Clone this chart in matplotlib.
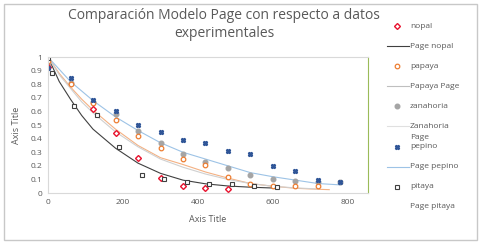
import matplotlib.pyplot as plt
from matplotlib.lines import Line2D
from matplotlib.patches import Rectangle

plt.rcParams['font.family'] = ['Open Sans', 'DejaVu Sans']

# experimental data (moisture ratio vs time)
t_nopal = [0, 120, 180, 240, 300, 360, 420, 480]
mr_nopal = [0.93, 0.62, 0.44, 0.26, 0.11, 0.05, 0.04, 0.03]

t_papaya = [0, 60, 120, 180, 240, 300, 360, 420, 480, 540, 600, 660, 720]
mr_papaya = [0.97, 0.80, 0.66, 0.54, 0.42, 0.33, 0.25, 0.21, 0.12, 0.07, 0.055, 0.055, 0.055]

t_zanahoria = [0, 60, 120, 180, 240, 300, 360, 420, 480, 540, 600, 660, 720, 780]
mr_zanahoria = [0.96, 0.81, 0.67, 0.58, 0.46, 0.37, 0.29, 0.23, 0.185, 0.13, 0.10, 0.09, 0.085, 0.08]

t_pepino = [0, 60, 120, 180, 240, 300, 360, 420, 480, 540, 600, 660, 720, 780]
mr_pepino = [0.92, 0.845, 0.686, 0.60, 0.50, 0.45, 0.39, 0.37, 0.31, 0.29, 0.20, 0.16, 0.095, 0.078]

t_pitaya = [0, 10, 70, 130, 190, 250, 310, 370, 430, 490, 550, 610]
mr_pitaya = [0.99, 0.885, 0.64, 0.575, 0.34, 0.13, 0.105, 0.085, 0.066, 0.063, 0.05, 0.046]

# Page model curves
tc_nopal = [0, 30, 60, 90, 120, 180, 240, 300, 360, 420, 480, 540, 600]
pg_nopal = [1.0, 0.82, 0.69, 0.57, 0.47, 0.33, 0.22, 0.145, 0.095, 0.068, 0.052, 0.043, 0.037]

tc_papaya = [0, 30, 60, 90, 120, 180, 240, 300, 360, 420, 480, 540, 600, 660, 720, 750]
pg_papaya = [1.0, 0.88, 0.78, 0.69, 0.61, 0.47, 0.35, 0.26, 0.21, 0.155, 0.11, 0.07, 0.05, 0.035, 0.028, 0.025]

tc_zanahoria = [0, 30, 60, 90, 120, 180, 240, 300, 360, 420, 480, 540, 600, 660, 720]
pg_zanahoria = [1.0, 0.87, 0.77, 0.67, 0.59, 0.45, 0.34, 0.25, 0.19, 0.14, 0.10, 0.07, 0.05, 0.038, 0.03]

tc_pepino = [0, 30, 60, 90, 120, 180, 240, 300, 360, 420, 480, 540, 600, 660, 720, 780]
pg_pepino = [1.0, 0.91, 0.82, 0.75, 0.68, 0.56, 0.46, 0.37, 0.30, 0.25, 0.20, 0.15, 0.12, 0.095, 0.07, 0.06]

W, H = 481, 245
fig = plt.figure(figsize=(W / 100, H / 100), dpi=100)
fig.patches.append(Rectangle((0.008, 0.02), 0.984, 0.965, transform=fig.transFigure,
                             fill=False, edgecolor='#c8c8c8', linewidth=1))
ax = fig.add_axes([0.0998, 0.212, 0.665, 0.555])

ax.plot(tc_nopal, pg_nopal, color='#404040', lw=0.8)
ax.plot(tc_papaya, pg_papaya, color='#F4B183', lw=0.8)
ax.plot(tc_zanahoria, pg_zanahoria, color='#D0D0D0', lw=0.8)
ax.plot(tc_pepino, pg_pepino, color='#9DC3E6', lw=0.8)

ms = 3.3
ax.plot(t_zanahoria, mr_zanahoria, 'o', color='#A5A5A5', ms=ms)
ax.plot(t_papaya, mr_papaya, 'o', mfc='white', mec='#ED7D31', mew=0.9, ms=ms)
ax.plot(t_nopal, mr_nopal, 'D', mfc='white', mec='#E8112D', mew=1.0, ms=3)
ax.plot(t_pepino, mr_pepino, 'X', color='#2F5597', ms=3)
ax.plot(t_pitaya, mr_pitaya, 's', mfc='white', mec='#404040', mew=0.8, ms=ms)

ax.set_xlim(0, 853)
ax.set_ylim(0, 1)
ax.set_xticks([0, 200, 400, 600, 800])
ax.set_yticks([0, 0.1, 0.2, 0.3, 0.4, 0.5, 0.6, 0.7, 0.8, 0.9, 1])
ax.set_yticklabels(['0', '0.1', '0.2', '0.3', '0.4', '0.5', '0.6', '0.7', '0.8', '0.9', '1'])
ax.tick_params(labelsize=6, colors='#595959', length=0, pad=4)
for s in ['left', 'bottom', 'top']:
    ax.spines[s].set_color('#d9d9d9')
    ax.spines[s].set_linewidth(0.8)
ax.spines['right'].set_color('#9BBB59')
ax.spines['right'].set_linewidth(0.8)

ax.set_xlabel('Axis Title', fontsize=6.5, color='#595959', labelpad=7)
ax.set_ylabel('Axis Title', fontsize=6.5, color='#595959', labelpad=7)

fig.text(0.466, 0.900, 'Comparación Modelo Page con respecto a datos\nexperimentales',
         ha='center', va='center', fontsize=10, color='#595959', linespacing=1.3)

# legend, laid out by hand (Excel style, wrapped label)
leg_labels = ['nopal', 'Page nopal', 'papaya', 'Papaya Page', 'zanahoria',
              'Zanahoria\nPage', 'pepino', 'Page pepino', 'pitaya', 'Page pitaya']
leg_styles = [
    dict(ls='none', marker='D', mfc='white', mec='#E8112D', mew=1.0, ms=3),
    dict(color='#404040', lw=0.8),
    dict(ls='none', marker='o', mfc='white', mec='#ED7D31', mew=0.9, ms=ms),
    dict(color='#BFBFBF', lw=0.8),
    dict(ls='none', marker='o', color='#A5A5A5', ms=ms),
    dict(color='#E0E0E0', lw=0.8),
    dict(ls='none', marker='X', color='#2F5597', ms=3),
    dict(color='#9DC3E6', lw=0.8),
    dict(ls='none', marker='s', mfc='white', mec='#404040', mew=0.8, ms=ms),
    dict(color='none', lw=0.8),
]
for i, (lab, st) in enumerate(zip(leg_labels, leg_styles)):
    yp = 26 + 20.1 * i
    yf = 1 - yp / H
    if st.get('ls') == 'none':
        fig.add_artist(Line2D([397 / W], [yf], transform=fig.transFigure, **st))
    else:
        fig.add_artist(Line2D([387 / W, 409 / W], [yf, yf], transform=fig.transFigure, **st))
    for j, part in enumerate(lab.split('\n')):
        fig.text(410 / W, 1 - (yp + 10.5 * j) / H, part, ha='left', va='center',
                 fontsize=6, color='#595959')

fig.savefig('out.png', dpi=100)
